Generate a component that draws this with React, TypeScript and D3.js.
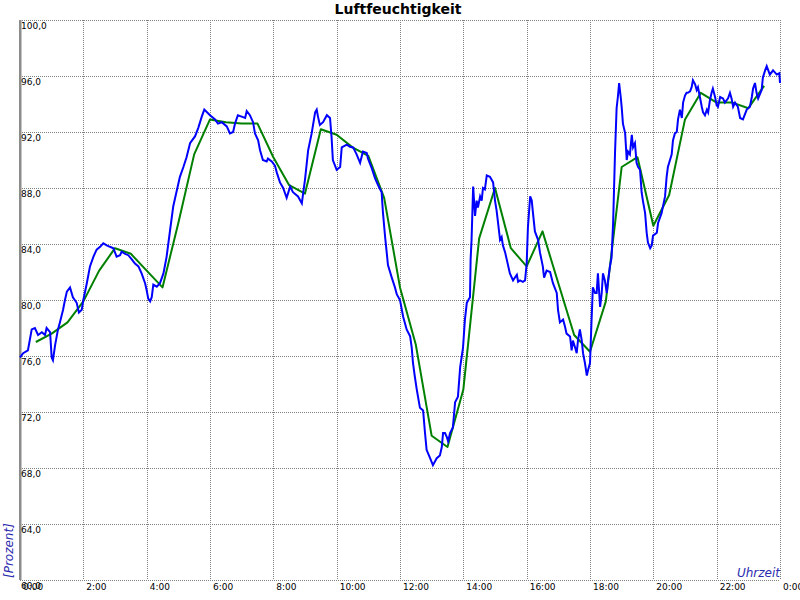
import React from "react";
import * as d3 from "d3";

const title = "Luftfeuchtigkeit";
const yAxisLabel = "[Prozent]";
const xAxisLabel = "Uhrzeit";

const xTickHours = [0, 2, 4, 6, 8, 10, 12, 14, 16, 18, 20, 22, 24];
const xTickLabels = ["0:00", "2:00", "4:00", "6:00", "8:00", "10:00", "12:00", "14:00", "16:00", "18:00", "20:00", "22:00", "0:00"];
const yTicks = [60, 64, 68, 72, 76, 80, 84, 88, 92, 96, 100];

// measured humidity (hours since midnight, percent)
const measuredHours = [
  0.0, 0.1, 0.25, 0.37, 0.47, 0.57, 0.69, 0.79, 0.84, 0.95, 1.0, 1.04, 1.11, 1.2, 1.26, 1.36, 1.42, 1.48, 1.58, 1.67,
  1.79, 1.86, 1.95, 2.0, 2.11, 2.21, 2.32, 2.42, 2.53, 2.63, 2.74, 2.84, 2.95, 3.05, 3.16, 3.21, 3.32, 3.42, 3.53, 3.63,
  3.74, 3.84, 3.95, 4.0, 4.05, 4.11, 4.16, 4.21, 4.32, 4.42, 4.53, 4.63, 4.74, 4.84, 4.95, 5.05, 5.16, 5.26, 5.37, 5.53,
  5.63, 5.74, 5.82, 6.0, 6.16, 6.25, 6.37, 6.53, 6.63, 6.73, 6.79, 6.88, 7.0, 7.11, 7.16, 7.26, 7.36, 7.42, 7.52, 7.58,
  7.67, 7.79, 7.83, 7.95, 8.05, 8.11, 8.21, 8.31, 8.42, 8.53, 8.62, 8.78, 8.9, 8.94, 9.0, 9.1, 9.21, 9.32, 9.37, 9.41,
  9.47, 9.57, 9.69, 9.79, 9.84, 9.88, 10.0, 10.11, 10.16, 10.32, 10.42, 10.52, 10.63, 10.74, 10.83, 10.95, 10.99, 11.11, 11.21, 11.31,
  11.42, 11.46, 11.53, 11.58, 11.62, 11.74, 11.84, 11.9, 12.0, 12.1, 12.21, 12.32, 12.37, 12.41, 12.47, 12.53, 12.63, 12.73, 12.79, 12.84,
  12.95, 13.04, 13.16, 13.26, 13.32, 13.36, 13.42, 13.48, 13.52, 13.58, 13.67, 13.74, 13.83, 13.9, 13.99, 14.05, 14.11, 14.21, 14.23, 14.26,
  14.31, 14.37, 14.42, 14.46, 14.53, 14.58, 14.62, 14.68, 14.74, 14.84, 14.94, 15.0, 15.05, 15.16, 15.21, 15.25, 15.32, 15.37, 15.47, 15.57,
  15.69, 15.73, 15.79, 15.88, 15.95, 16.0, 16.04, 16.11, 16.16, 16.2, 16.26, 16.36, 16.42, 16.51, 16.55, 16.63, 16.74, 16.83, 16.95, 16.99,
  17.05, 17.15, 17.21, 17.26, 17.37, 17.42, 17.46, 17.53, 17.58, 17.62, 17.68, 17.74, 17.78, 17.84, 17.9, 17.94, 18.0, 18.05, 18.09, 18.16,
  18.21, 18.25, 18.32, 18.37, 18.41, 18.47, 18.53, 18.57, 18.63, 18.68, 18.73, 18.79, 18.84, 18.88, 18.92, 18.97, 19.0, 19.04, 19.11, 19.16,
  19.2, 19.26, 19.32, 19.36, 19.42, 19.47, 19.52, 19.58, 19.63, 19.67, 19.74, 19.79, 19.83, 19.9, 19.95, 19.99, 20.11, 20.15, 20.26, 20.37,
  20.42, 20.46, 20.58, 20.62, 20.68, 20.74, 20.78, 20.84, 20.9, 20.94, 21.0, 21.05, 21.09, 21.16, 21.21, 21.25, 21.32, 21.37, 21.41, 21.47,
  21.53, 21.57, 21.63, 21.69, 21.73, 21.79, 21.84, 21.88, 21.95, 22.0, 22.04, 22.11, 22.2, 22.26, 22.36, 22.42, 22.47, 22.52, 22.58, 22.67,
  22.74, 22.83, 22.95, 23.05, 23.11, 23.15, 23.21, 23.26, 23.31, 23.42, 23.46, 23.53, 23.58, 23.68, 23.78, 23.9, 23.98, 24.0,
];
const measuredValues = [
  75.9, 76.2, 76.4, 77.9, 78.0, 77.5, 77.7, 77.5, 78.0, 77.7, 75.9, 75.7, 76.8, 77.9, 78.4, 79.3, 80.0, 80.6, 80.9, 80.2,
  79.8, 79.1, 79.3, 80.0, 81.2, 82.4, 83.1, 83.6, 83.8, 84.05, 83.9, 83.8, 83.7, 83.1, 83.2, 83.45, 83.3, 83.2, 82.9, 82.6,
  82.4, 81.9, 81.2, 80.7, 80.1, 79.9, 80.2, 81.1, 80.95, 81.2, 81.9, 83.1, 85.0, 86.7, 87.8, 88.8, 89.5, 90.2, 91.2, 91.7,
  92.3, 93.1, 93.6, 93.2, 92.9, 92.6, 92.7, 92.4, 91.9, 92.0, 92.6, 93.2, 93.1, 93.0, 93.5, 93.2, 92.7, 91.9, 91.4, 90.7,
  90.0, 89.9, 90.1, 89.9, 89.6, 89.1, 88.4, 88.0, 87.3, 88.1, 87.7, 87.4, 86.9, 87.6, 88.6, 90.7, 91.9, 93.4, 93.6, 93.1,
  92.5, 92.7, 93.2, 93.0, 91.6, 90.0, 89.3, 89.5, 90.9, 91.1, 90.95, 90.9, 90.4, 89.8, 90.6, 90.5, 90.1, 89.4, 88.7, 88.2,
  87.7, 86.3, 84.5, 83.4, 82.5, 81.6, 80.9, 80.4, 80.0, 78.8, 77.9, 77.4, 76.6, 75.5, 74.5, 73.6, 72.3, 72.1, 70.5, 69.3,
  68.7, 68.2, 68.7, 68.9, 69.5, 70.5, 70.5, 70.2, 69.9, 70.5, 70.9, 72.7, 73.1, 75.2, 76.6, 78.6, 79.8, 80.2, 82.9, 84.3,
  88.1, 86.0, 87.1, 86.6, 87.4, 87.1, 88.0, 87.9, 88.9, 88.8, 88.4, 87.1, 86.4, 84.3, 84.5, 83.9, 83.4, 82.9, 81.9, 81.4,
  81.8, 81.3, 81.4, 81.3, 81.4, 82.6, 85.2, 87.4, 87.1, 86.2, 84.9, 84.3, 83.4, 82.4, 81.6, 82.1, 82.0, 81.2, 80.5, 79.3,
  78.4, 78.6, 78.1, 77.6, 77.4, 76.4, 77.1, 76.6, 76.2, 77.1, 77.9, 77.1, 76.2, 75.5, 74.6, 75.0, 75.5, 78.6, 80.9, 80.5,
  80.5, 81.9, 79.5, 80.5, 81.9, 81.4, 80.5, 81.4, 82.4, 83.0, 85.5, 90.5, 93.7, 94.5, 95.5, 94.5, 93.8, 92.6, 91.9, 90.0,
  90.6, 90.4, 91.8, 90.9, 91.2, 89.8, 89.5, 89.3, 87.7, 87.1, 86.2, 84.8, 84.1, 83.7, 83.9, 84.6, 84.8, 85.5, 86.2, 87.4,
  88.8, 89.5, 90.4, 91.4, 91.9, 92.0, 92.9, 93.6, 93.0, 94.1, 94.6, 94.8, 94.8, 94.9, 95.2, 95.7, 95.4, 95.0, 95.2, 94.5,
  93.8, 93.4, 93.2, 93.6, 93.4, 94.3, 94.8, 95.1, 94.5, 93.9, 93.8, 94.5, 94.4, 94.1, 94.4, 94.8, 94.4, 93.8, 94.1, 93.8,
  93.0, 92.9, 93.6, 93.8, 94.5, 95.1, 95.5, 94.8, 94.4, 95.0, 95.9, 96.4, 96.7, 96.1, 96.4, 96.1, 96.2, 95.5,
];

// half-hourly mean
const meanHours = [
  0.5, 1.0, 1.5, 2.0, 2.5, 3.0, 3.5, 4.0, 4.5, 5.0, 5.5, 6.0, 6.5, 7.0, 7.5, 8.0, 8.5, 9.0, 9.5, 10.0, 10.5, 11.0, 11.5, 12.0,
  12.5, 13.0, 13.5, 14.0, 14.5, 15.0, 15.5, 16.0, 16.5, 17.0, 17.5, 18.0, 18.5, 19.0, 19.5, 20.0, 20.5, 21.0, 21.5, 22.0, 22.5, 23.0, 23.5,
];
const meanValues = [
  77.0, 77.6, 78.4, 79.9, 82.1, 83.7, 83.3, 82.1, 80.9, 85.5, 90.4, 92.9, 92.7, 92.6, 92.6, 90.2, 88.2, 87.6, 92.2, 91.8, 90.9, 90.3, 87.3, 80.9,
  76.8, 70.3, 69.5, 73.6, 84.4, 88.0, 83.7, 82.4, 84.9, 81.2, 77.5, 76.3, 79.9, 89.5, 90.2, 85.3, 87.5, 92.9, 94.8, 94.1, 94.1, 93.7, 95.3,
];

const W = 800;
const H = 600;
const left = 20;
const right = 780;
const top = 20;
const bottom = 580;

export default function App() {
  const x = d3.scaleLinear().domain([0, 24]).range([left, right]);
  const y = d3.scaleLinear().domain([60, 100]).range([bottom, top]);

  const measured = measuredHours.map((h, i) => [h, measuredValues[i]] as [number, number]);
  const mean = meanHours.map((h, i) => [h, meanValues[i]] as [number, number]);
  const line = d3
    .line<[number, number]>()
    .x((d) => x(d[0]))
    .y((d) => y(d[1]));

  const font = "'DejaVu Sans', sans-serif";
  const fmt = (v: number) => v.toFixed(1).replace(".", ",");

  return (
    <svg
      width={W}
      height={H}
      style={{ position: "absolute", left: 0, top: 0, background: "#fff" }}
      fontFamily={font}
    >
      <rect x={0} y={0} width={W} height={H} fill="#fff" />
      {/* grid */}
      {xTickHours.map((h) => (
        <line
          key={"gx" + h}
          x1={Math.round(x(h)) + 0.5}
          x2={Math.round(x(h)) + 0.5}
          y1={top}
          y2={bottom}
          stroke="#808080"
          strokeWidth={1}
          strokeDasharray="1,1"
          shapeRendering="crispEdges"
        />
      ))}
      {yTicks.map((v) => (
        <line
          key={"gy" + v}
          x1={left}
          x2={right}
          y1={Math.round(y(v)) + 0.5}
          y2={Math.round(y(v)) + 0.5}
          stroke="#808080"
          strokeWidth={1}
          strokeDasharray="1,1"
          shapeRendering="crispEdges"
        />
      ))}
      {/* left axis bar */}
      <rect x={19} y={top} width={2.5} height={bottom - top} fill="#8c8c8c" />

      {/* series */}
      <path d={line(mean) || ""} fill="none" stroke="#008000" strokeWidth={2} strokeLinejoin="round" />
      <path d={line(measured) || ""} fill="none" stroke="#0000ff" strokeWidth={2} strokeLinejoin="miter" />

      {/* y tick labels */}
      {yTicks.map((v) => (
        <text key={"ty" + v} x={21} y={y(v) + 8.7} fontSize={9} fill="#000">
          {fmt(v)}
        </text>
      ))}
      {/* x tick labels */}
      {xTickHours.map((h, i) => (
        <text key={"tx" + i} x={x(h) + 3} y={bottom + 9.5} fontSize={9} fill="#000">
          {xTickLabels[i]}
        </text>
      ))}

      {/* title */}
      <text x={398} y={13.5} textAnchor="middle" fontSize={14} fontWeight="bold" fill="#000">
        {title}
      </text>

      {/* axis labels */}
      <text
        transform={`translate(13,578) rotate(-90)`}
        fontSize={12}
        fontStyle="italic"
        fill="#2b2bb0"
      >
        {yAxisLabel}
      </text>
      <text x={780} y={577} textAnchor="end" fontSize={12} fontStyle="italic" fill="#2b2bb0">
        {xAxisLabel}
      </text>
    </svg>
  );
}
